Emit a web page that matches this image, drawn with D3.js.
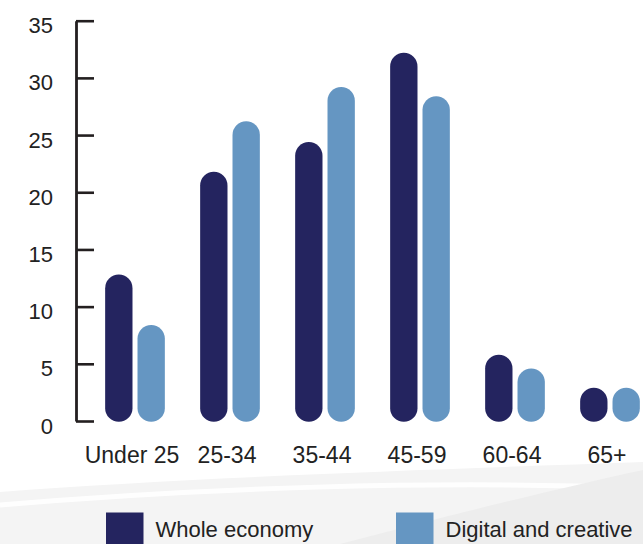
<!DOCTYPE html>
<html>
<head>
<meta charset="utf-8">
<script src="https://cdn.jsdelivr.net/npm/d3@7"></script>
<style>
  html, body { margin: 0; padding: 0; background: #ffffff; }
  svg { display: block; }
  text { font-family: "Liberation Sans", Arial, sans-serif; fill: #222222; }
</style>
</head>
<body>
<svg id="chart" width="643" height="544"></svg>
<script>
// Age bands and the share (%) of workers in each band
const categories = ["Under 25", "25-34", "35-44", "45-59", "60-64", "65+"];
const seriesNames = ["Whole economy", "Digital and creative"];
const wholeEconomy = [12.8, 21.8, 24.4, 32.2, 5.8, 2.9];
const digitalCreative = [8.4, 26.2, 29.2, 28.4, 4.6, 2.9];
const yTicks = [0, 5, 10, 15, 20, 25, 30, 35];
const colors = ["#24245f", "#6596c2"];

const svg = d3.select("#chart");
const W = 643, H = 544;

// Soft grey swoosh along the bottom of the page
const bg = svg.append("g");
bg.append("path")
  .attr("d", `M0,${H} L0,492 C180,478 420,470 ${W},462 L${W},${H} Z`)
  .attr("fill", "#f4f4f4");
bg.append("path")
  .attr("d", `M0,505 C200,488 430,480 ${W},488`)
  .attr("fill", "none").attr("stroke", "#ffffff").attr("stroke-width", 5).attr("opacity", 0.9);
bg.append("path")
  .attr("d", `M340,${H} C450,515 560,488 ${W},470 L${W},${H} Z`)
  .attr("fill", "#ededed");

// Scales
const y = d3.scaleLinear().domain([0, 35]).range([421, 20.7]);
const x = d3.scaleBand().domain(categories).range([87.5, 657.5]).paddingInner(0).paddingOuter(0);
const xInner = d3.scaleBand().domain(seriesNames).range([17.65, 77.35]).paddingInner(0.155).paddingOuter(0);

// Y axis: ticks point into the plot, labels sit to the left
const yAxis = d3.axisLeft(y)
  .tickValues(yTicks)
  .tickSizeInner(-18)
  .tickSizeOuter(0)
  .tickPadding(23)
  .tickFormat(d3.format("d"));

const gy = svg.append("g")
  .attr("transform", "translate(76,0)")
  .call(yAxis);
gy.select(".domain").attr("stroke", "#231f20").attr("stroke-width", 2.8);
gy.selectAll(".tick line").attr("stroke", "#231f20").attr("stroke-width", 2.6);
gy.selectAll(".tick text")
  .attr("font-size", 22)
  .attr("y", 5)
  .attr("fill", "#222222")
  .style("font-family", '"Liberation Sans", Arial, sans-serif');

// X axis labels (no axis line)
const xAxis = d3.axisBottom(x).tickSize(0).tickPadding(0);
const gx = svg.append("g")
  .attr("transform", "translate(-3,463)")
  .call(xAxis);
gx.select(".domain").remove();
gx.selectAll(".tick text")
  .attr("font-size", 23)
  .attr("dy", 0)
  .attr("y", 0)
  .attr("fill", "#222222")
  .style("font-family", '"Liberation Sans", Arial, sans-serif');

// Pill-shaped bars
const rows = categories.map((c, i) => ({
  category: c,
  values: [
    { series: seriesNames[0], value: wholeEconomy[i], color: colors[0] },
    { series: seriesNames[1], value: digitalCreative[i], color: colors[1] }
  ]
}));

const bw = xInner.bandwidth();
svg.append("g").selectAll("g")
  .data(rows)
  .join("g")
  .attr("transform", d => `translate(${x(d.category)},0)`)
  .selectAll("rect")
  .data(d => d.values)
  .join("rect")
  .attr("x", d => xInner(d.series))
  .attr("y", d => y(d.value))
  .attr("width", bw)
  .attr("height", d => y(0) - y(d.value) + 0.8)
  .attr("rx", bw / 2)
  .attr("ry", bw / 2)
  .attr("fill", d => d.color);

// Legend
const legendX = [106, 396];
const legend = svg.append("g").selectAll("g")
  .data(seriesNames)
  .join("g")
  .attr("transform", (d, i) => `translate(${legendX[i]},512.5)`);
legend.append("rect")
  .attr("width", 37.5).attr("height", 40)
  .attr("fill", (d, i) => colors[i]);
legend.append("text")
  .attr("x", 49.5).attr("y", 24)
  .attr("font-size", 22)
  .text(d => d);
</script>
</body>
</html>
